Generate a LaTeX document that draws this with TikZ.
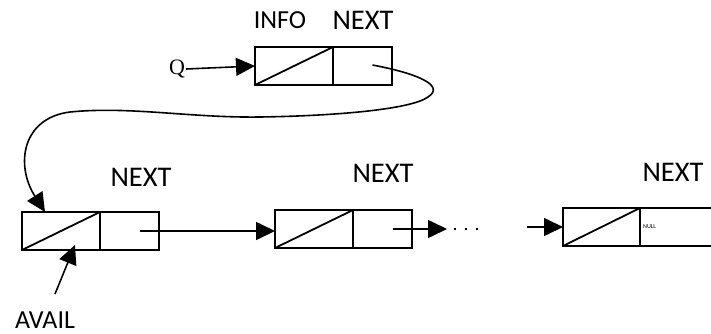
\documentclass[tikz,border=0pt]{standalone}
\usepackage{fontspec}
\setmainfont{Carlito}
\newfontfamily\qfont{Liberation Serif}
\usetikzlibrary{arrows.meta}
\begin{document}
\begin{tikzpicture}[x=1pt,y=-1pt,
  cell/.style={draw, line width=1.8pt, minimum height=38pt, inner sep=0pt, outer sep=0pt, anchor=north west},
  infocell/.style={cell, minimum width=78pt},
  nextcell/.style={cell, minimum width=59pt},
  lbl/.style={font=\fontsize{28.5}{28.5}\selectfont, inner sep=0pt},
  smalllbl/.style={font=\fontsize{26}{26}\selectfont, inner sep=0pt},
  link/.style={line width=1.6pt, -{Triangle[length=19pt,width=18pt]}},
  diag/.style={line width=1.8pt}]
\useasboundingbox (0,0) rectangle (711,334);
\clip (0,0) rectangle (711,334);

% record pointed to by Q
\node[infocell] (qi) at (255,47) {};
\node[nextcell] (qn) at (qi.north east) {};
\draw[diag] (qi.south west) -- (qi.north east);
\node[smalllbl] (qinfo) at (280,20) {INFO};
\node[lbl] (qnext) at (363,20) {NEXT};
\node[inner sep=1pt, font=\qfont\fontsize{22}{22}\selectfont] (q) at (177,69) {Q};
\draw[link] (q.east) -- (qi.west);

% first free record (AVAIL)
\node[infocell] (ai) at (22,212) {};
\node[nextcell] (an) at (ai.north east) {};
\draw[diag] (ai.south west) -- (ai.north east);
\node[lbl] (anext) at (141,177) {NEXT};

% second record
\node[infocell] (bi) at (275,210) {};
\node[nextcell] (bn) at (bi.north east) {};
\draw[diag] (bi.south west) -- (bi.north east);
\node[lbl] (bnext) at (383,173) {NEXT};

% last record
\node[infocell, minimum width=77pt] (ci) at (563,208) {};
\node[cell, minimum width=80pt] (cn) at (ci.north east) {};
\draw[diag] (ci.south west) -- (ci.north east);
\node[lbl] (cnext) at (673,172) {NEXT};
\node[font=\fontsize{6}{6}\selectfont, inner sep=0pt, anchor=west] (null) at ([xshift=3pt]cn.west) {NULL};

% Q's NEXT field loops back to the AVAIL record
\coordinate (qstart) at ([xshift=10pt,yshift=1pt]qn.center);
\coordinate (atop) at ([xshift=23pt]ai.north west);
\draw[link] (qstart) .. controls (420,74) and (445,86) .. (428,97)
  .. controls (410,110) and (330,116) .. (260,117)
  .. controls (190,118) and (130,106) .. (70,112)
  .. controls (22,118) and (15,165) .. (atop);

% links along the list
\draw[link] ([xshift=10pt]an.center) -- (bi.west |- an.center);
\coordinate (bdots) at ([xshift=35pt]bn.east);
\draw[link] ([xshift=10pt]bn.center) -- (bdots);
\draw[line width=1.3pt, dash pattern=on 2pt off 9pt] ([xshift=7pt]bdots) -- ++(26,0);
\coordinate (cfrom) at ([xshift=-36pt]ci.west);
\draw[link] (cfrom) -- (ci.west);

% AVAIL pointer
\node[smalllbl] (avail) at (45,320) {AVAIL};
\draw[link] (55,294) -- ([xshift=53pt,yshift=5pt]ai.south west);
\end{tikzpicture}
\end{document}
